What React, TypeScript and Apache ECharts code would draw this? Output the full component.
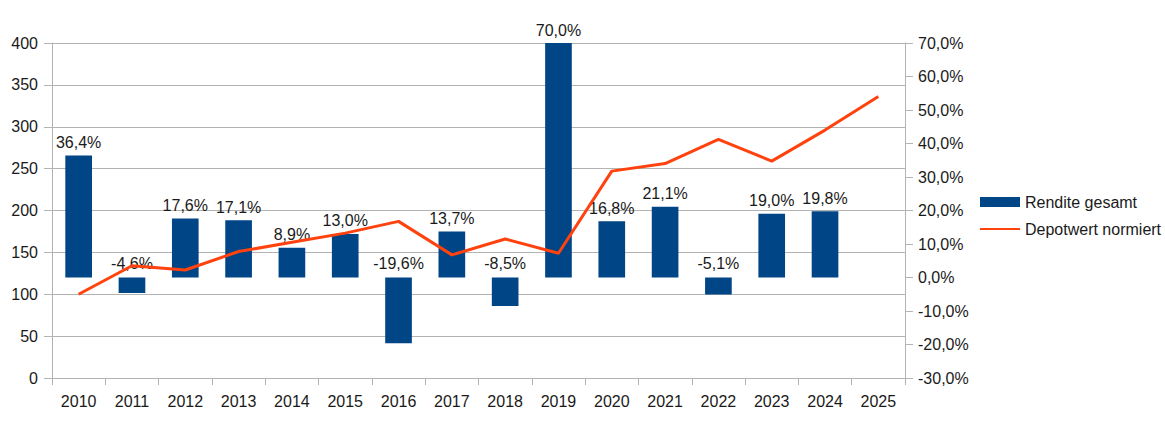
import React, { useEffect, useRef } from "react";
import * as echarts from "echarts";

const years = ["2010", "2011", "2012", "2013", "2014", "2015", "2016", "2017", "2018", "2019", "2020", "2021", "2022", "2023", "2024", "2025"];
const renditeGesamt = [36.4, -4.6, 17.6, 17.1, 8.9, 13.0, -19.6, 13.7, -8.5, 70.0, 16.8, 21.1, -5.1, 19.0, 19.8, null];
const depotwertNormiert = [100, 134, 129, 151, 162, 173, 187, 147, 166, 149, 247, 256, 285, 259, 296, 336];

const fmtPct = (v: number) => v.toFixed(1).replace(".", ",") + "%";

export default function App() {
  const ref = useRef<HTMLDivElement>(null);
  useEffect(() => {
    if (!ref.current) return;
    const chart = echarts.init(ref.current, null, { renderer: "svg" });
    const font = "Liberation Sans, Arial, sans-serif";
    const textColor = "#1a1a1a";
    chart.setOption({
      animation: false,
      backgroundColor: "#ffffff",
      textStyle: { fontFamily: font },
      grid: { left: 52, top: 43, width: 853, height: 335, containLabel: false },
      legend: {
        orient: "vertical",
        left: 975,
        top: 188,
        itemWidth: 40,
        itemHeight: 10,
        itemGap: 9,
        textStyle: { fontFamily: font, fontSize: 16, color: textColor, lineHeight: 18 },
        data: [
          { name: "Rendite gesamt", icon: "rect" },
          { name: "Depotwert normiert", icon: "path://M0,4L40,4L40,6L0,6Z", itemStyle: { color: "#ff420e" } },
        ],
      },
      xAxis: {
        type: "category",
        data: years,
        boundaryGap: true,
        axisLine: { show: true, lineStyle: { color: "#b3b3b3", width: 1 } },
        axisTick: { show: true, length: 7, alignWithLabel: false, lineStyle: { color: "#b3b3b3" } },
        axisLabel: { color: textColor, fontSize: 16, fontFamily: font, margin: 15, interval: 0 },
        splitLine: { show: false },
      },
      yAxis: [
        {
          type: "value",
          min: 0,
          max: 400,
          interval: 50,
          position: "left",
          axisLine: { show: true, lineStyle: { color: "#b3b3b3", width: 1 } },
          axisTick: { show: true, length: 8, lineStyle: { color: "#b3b3b3" } },
          axisLabel: { color: textColor, fontSize: 16, fontFamily: font, margin: 14 },
          splitLine: { show: true, lineStyle: { color: "#b3b3b3", width: 1 } },
        },
        {
          type: "value",
          min: -30,
          max: 70,
          interval: 10,
          position: "right",
          axisLine: { show: true, lineStyle: { color: "#b3b3b3", width: 1 } },
          axisTick: { show: true, length: 8, lineStyle: { color: "#b3b3b3" } },
          axisLabel: { color: textColor, fontSize: 16, fontFamily: font, margin: 13, formatter: (v: number) => fmtPct(v) },
          splitLine: { show: false },
        },
      ],
      series: [
        {
          name: "Rendite gesamt",
          type: "bar",
          yAxisIndex: 1,
          barWidth: "50%",
          itemStyle: { color: "#004586" },
          data: renditeGesamt.map((v) =>
            v === null
              ? null
              : {
                  value: v,
                  label: {
                    show: true,
                    position: v >= 0 ? "top" : "insideBottom",
                    distance: 5,
                    offset: v >= 0 ? [0, 0] : [0, -(Math.abs(v) * 3.356) - 1],
                  },
                }
          ),
          label: {
            show: true,
            color: textColor,
            fontSize: 16,
            fontFamily: font,
            formatter: (p: any) => fmtPct(p.value),
          },
          z: 2,
        },
        {
          name: "Depotwert normiert",
          type: "line",
          yAxisIndex: 0,
          data: depotwertNormiert,
          symbol: "none",
          lineStyle: { color: "#ff420e", width: 3 },
          itemStyle: { color: "#ff420e" },
          z: 3,
        },
      ],
    });
    return () => chart.dispose();
  }, []);
  return <div ref={ref} style={{ position: "fixed", left: 0, top: 0, width: 1165, height: 425 }} />;
}
